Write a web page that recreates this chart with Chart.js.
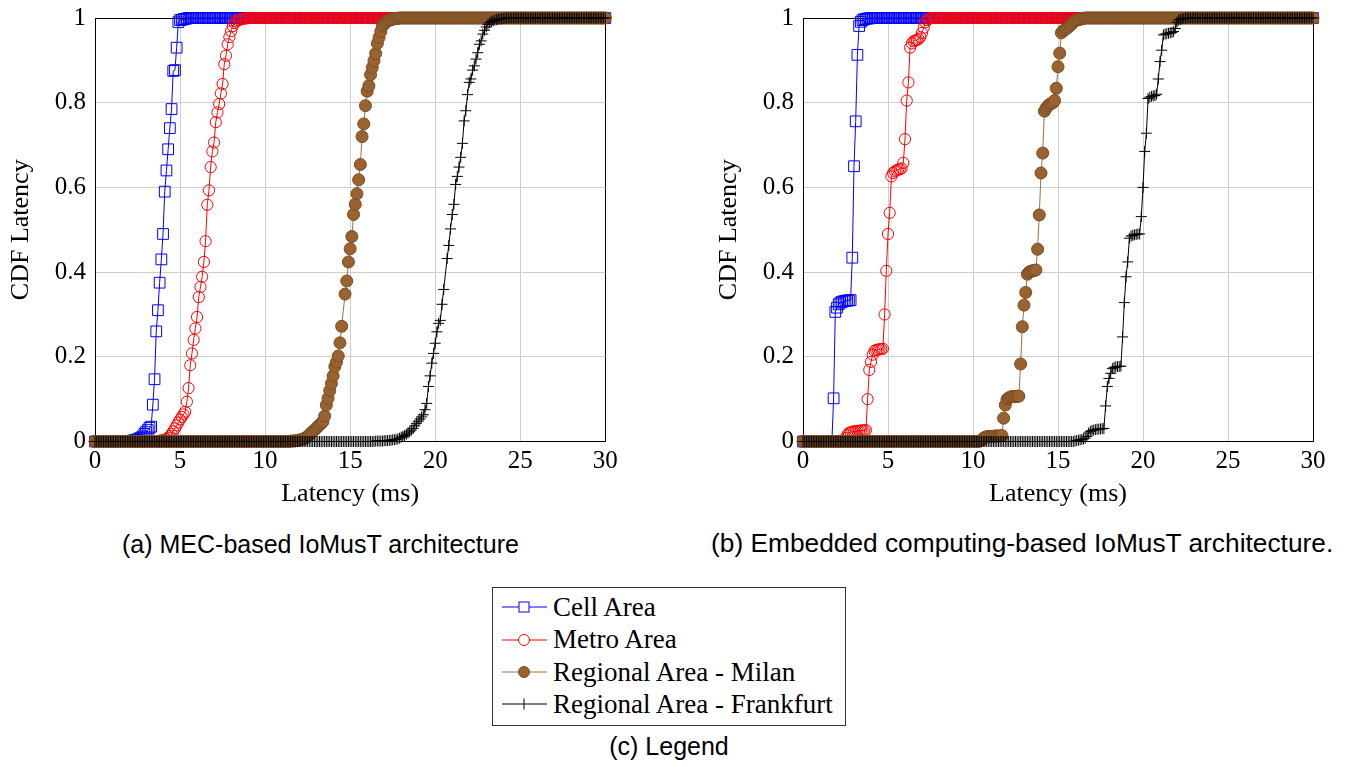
<!DOCTYPE html>
<html>
<head>
<meta charset="utf-8">
<title>CDF Latency</title>
<script src="https://cdn.jsdelivr.net/npm/chart.js@4.4.1/dist/chart.umd.min.js"></script>
<style>
  body { margin: 0; background: #fff; width: 1345px; height: 767px; overflow: hidden; position: relative; }
  canvas { position: absolute; top: -6px; }
  #chartA { left: 0; }
  #chartB { left: 708px; }
  .caption { position: absolute; font-family: "Liberation Sans", Arial, sans-serif; font-size: 25px; line-height: 30px; color: #000; white-space: nowrap; }
  #legendBox { position: absolute; left: 492px; top: 587px; width: 352px; height: 137px; border: 1px solid #333; }
  .entry { position: absolute; left: 0; height: 32px; display: flex; align-items: center; font-family: "Liberation Serif", serif; font-size: 27px; color: #000; white-space: nowrap; }
  .entry svg { margin-left: 9px; margin-right: 6px; }
</style>
</head>
<body>
<canvas id="chartA" width="640" height="526"></canvas>
<canvas id="chartB" width="637" height="526"></canvas>
<div class="caption" style="left:122px; top:529px;">(a) MEC-based IoMusT architecture</div>
<div class="caption" style="left:711px; top:528px; font-size:26.3px;">(b) Embedded computing-based IoMusT architecture.</div>
<div id="legendBox"></div>
<div class="caption" style="left:492px; width:354px; text-align:center; top:731px;">(c) Legend</div>

<script>
// axis ticks
const latencyTicks = [0, 5, 10, 15, 20, 25, 30];
const cdfTicks = [0, 0.2, 0.4, 0.6, 0.8, 1];

const seriesNames = ['Cell Area', 'Metro Area', 'Regional Area - Milan', 'Regional Area - Frankfurt'];

// CDF is sampled every 0.1 ms; below the listed steps it is 0, above them 1
const sampleLatency = Array.from({ length: 301 }, (_, i) => i / 10);

// (a) MEC-based architecture: [latency ms, CDF] where the curve moves
const cellMec = [[2.0,0.001],[2.1,0.001],[2.2,0.002],[2.3,0.003],[2.4,0.004],[2.5,0.005],[2.6,0.007],[2.7,0.009],[2.8,0.012],[2.9,0.018],
  [3.0,0.022],[3.1,0.027],[3.2,0.032],[3.3,0.035],[3.4,0.087],[3.5,0.147],[3.6,0.26],[3.7,0.31],[3.8,0.375],[3.9,0.43],
  [4.0,0.49],[4.1,0.59],[4.2,0.64],[4.3,0.69],[4.4,0.74],[4.5,0.785],[4.6,0.875],[4.7,0.877],[4.8,0.93],[4.9,0.99],
  [5.0,0.995],[5.1,0.996],[5.2,0.997],[5.3,0.998],[5.4,0.999]];
const metroMec = [[3.6,0.001],[3.7,0.001],[3.8,0.002],[3.9,0.002],[4.0,0.003],[4.1,0.004],[4.2,0.006],[4.3,0.009],[4.4,0.013],[4.5,0.018],
  [4.6,0.024],[4.7,0.031],[4.8,0.038],[4.9,0.045],[5.0,0.052],[5.1,0.058],[5.2,0.064],[5.3,0.07],[5.4,0.094],[5.5,0.126],
  [5.6,0.18],[5.7,0.208],[5.8,0.24],[5.9,0.267],[6.0,0.294],[6.1,0.341],[6.2,0.365],[6.3,0.389],[6.4,0.424],[6.5,0.473],
  [6.6,0.559],[6.7,0.593],[6.8,0.648],[6.9,0.685],[7.0,0.706],[7.1,0.754],[7.2,0.777],[7.3,0.797],[7.4,0.822],[7.5,0.844],
  [7.6,0.891],[7.7,0.911],[7.8,0.938],[7.9,0.955],[8.0,0.969],[8.1,0.981],[8.2,0.988],[8.3,0.992],[8.4,0.995],[8.5,0.996],
  [8.6,0.997],[8.7,0.998],[8.8,0.999],[8.9,0.999]];
const milanMec = [[11.5,0.001],[11.6,0.001],[11.7,0.001],[11.8,0.002],[11.9,0.002],[12.0,0.003],[12.1,0.004],[12.2,0.005],[12.3,0.007],[12.4,0.009],
  [12.5,0.012],[12.6,0.016],[12.7,0.02],[12.8,0.024],[12.9,0.027],[13.0,0.031],[13.1,0.035],[13.2,0.039],[13.3,0.043],[13.4,0.047],
  [13.5,0.06],[13.6,0.086],[13.7,0.102],[13.8,0.12],[13.9,0.137],[14.0,0.155],[14.1,0.177],[14.2,0.188],[14.3,0.202],[14.4,0.233],
  [14.5,0.272],[14.7,0.348],[14.8,0.379],[14.9,0.424],[15.0,0.455],[15.1,0.484],[15.2,0.536],[15.3,0.56],[15.4,0.585],[15.5,0.618],
  [15.6,0.654],[15.7,0.72],[15.8,0.75],[15.9,0.793],[16.0,0.827],[16.1,0.84],[16.2,0.866],[16.3,0.883],[16.4,0.899],[16.5,0.916],
  [16.6,0.94],[16.7,0.954],[16.8,0.968],[16.9,0.981],[17.0,0.986],[17.1,0.99],[17.2,0.993],[17.3,0.995],[17.4,0.996],[17.5,0.997],
  [17.6,0.998],[17.7,0.999],[17.8,0.999]];
const frankfurtMec = [[16.5,0.001],[16.6,0.001],[16.7,0.001],[16.8,0.001],[16.9,0.001],[17.0,0.002],[17.1,0.002],[17.2,0.002],[17.3,0.003],[17.4,0.003],
  [17.5,0.004],[17.6,0.004],[17.7,0.005],[17.8,0.006],[17.9,0.008],[18.0,0.01],[18.1,0.012],[18.2,0.014],[18.3,0.017],[18.4,0.02],
  [18.5,0.023],[18.6,0.027],[18.7,0.031],[18.8,0.037],[18.9,0.043],[19.0,0.048],[19.1,0.053],[19.2,0.058],[19.3,0.063],[19.4,0.075],
  [19.5,0.09],[19.6,0.13],[19.7,0.155],[19.8,0.185],[19.9,0.208],[20.0,0.232],[20.1,0.259],[20.2,0.279],[20.3,0.286],[20.4,0.324],
  [20.5,0.359],[20.7,0.432],[20.8,0.463],[20.9,0.502],[21.0,0.536],[21.1,0.56],[21.2,0.607],[21.3,0.626],[21.4,0.648],[21.5,0.671],
  [21.6,0.704],[21.7,0.757],[21.8,0.781],[21.9,0.819],[22.0,0.848],[22.1,0.856],[22.2,0.877],[22.3,0.887],[22.4,0.903],[22.5,0.918],
  [22.6,0.938],[22.7,0.946],[22.8,0.962],[22.9,0.971],[23.0,0.979],[23.1,0.985],[23.2,0.989],[23.3,0.991],[23.4,0.993],[23.5,0.995],
  [23.6,0.996],[23.7,0.997],[23.8,0.998],[23.9,0.998],[24.0,0.999],[24.1,0.999]];

// (b) Embedded computing architecture
const cellEmb = [[1.8,0.102],[1.9,0.306],[2.0,0.316],[2.1,0.324],[2.2,0.328],[2.3,0.33],[2.4,0.331],[2.5,0.332],[2.6,0.333],[2.7,0.333],
  [2.8,0.334],[2.9,0.434],[3.0,0.65],[3.1,0.756],[3.2,0.913],[3.3,0.981],[3.4,0.991],[3.5,0.995],[3.6,0.997],[3.7,0.998],
  [3.8,0.999],[3.9,0.999]];
const metroEmb = [[2.4,0.002],[2.5,0.008],[2.6,0.015],[2.7,0.02],[2.8,0.022],[2.9,0.023],[3.0,0.024],[3.1,0.024],[3.2,0.025],[3.3,0.025],
  [3.4,0.026],[3.5,0.026],[3.6,0.026],[3.7,0.027],[3.8,0.1],[3.9,0.169],[4.0,0.188],[4.1,0.205],[4.2,0.214],[4.3,0.216],
  [4.4,0.217],[4.5,0.218],[4.6,0.218],[4.7,0.219],[4.8,0.3],[4.9,0.403],[5.0,0.49],[5.1,0.54],[5.2,0.626],[5.3,0.634],
  [5.4,0.638],[5.5,0.64],[5.6,0.642],[5.7,0.643],[5.8,0.645],[5.9,0.658],[6.0,0.714],[6.1,0.805],[6.2,0.848],[6.3,0.93],
  [6.4,0.94],[6.5,0.945],[6.6,0.947],[6.7,0.948],[6.8,0.95],[6.9,0.955],[7.0,0.965],[7.1,0.977],[7.2,0.99],[7.3,0.995],
  [7.4,0.998]];
const milanEmb = [[10.4,0.001],[10.5,0.003],[10.6,0.007],[10.7,0.01],[10.8,0.011],[10.9,0.012],[11.0,0.012],[11.1,0.012],[11.2,0.012],[11.3,0.013],
  [11.4,0.013],[11.5,0.013],[11.6,0.013],[11.7,0.014],[11.8,0.055],[11.9,0.086],[12.0,0.1],[12.1,0.103],[12.2,0.105],[12.3,0.106],
  [12.4,0.106],[12.5,0.106],[12.6,0.107],[12.7,0.107],[12.8,0.183],[12.9,0.271],[13.0,0.322],[13.1,0.352],[13.2,0.395],[13.3,0.4],
  [13.4,0.402],[13.5,0.403],[13.6,0.404],[13.7,0.405],[13.8,0.454],[13.9,0.535],[14.0,0.634],[14.1,0.681],[14.2,0.78],[14.3,0.787],
  [14.4,0.792],[14.5,0.796],[14.6,0.798],[14.7,0.8],[14.8,0.805],[14.9,0.834],[15.0,0.885],[15.1,0.917],[15.2,0.965],[15.3,0.97],
  [15.4,0.972],[15.5,0.975],[15.6,0.978],[15.7,0.982],[15.8,0.985],[15.9,0.99],[16.0,0.993],[16.1,0.995],[16.2,0.996],[16.3,0.997],
  [16.4,0.998],[16.5,0.999]];
const frankfurtEmb = [[16.0,0.001],[16.1,0.002],[16.2,0.003],[16.3,0.004],[16.4,0.005],[16.5,0.006],[16.6,0.008],[16.7,0.012],[16.8,0.02],[16.9,0.024],
  [17.0,0.026],[17.1,0.027],[17.2,0.028],[17.3,0.029],[17.4,0.029],[17.5,0.03],[17.6,0.03],[17.7,0.031],[17.8,0.084],[17.9,0.13],
  [18.0,0.149],[18.1,0.161],[18.2,0.172],[18.3,0.175],[18.4,0.176],[18.5,0.177],[18.6,0.177],[18.7,0.178],[18.8,0.247],[18.9,0.328],
  [19.0,0.389],[19.1,0.424],[19.2,0.48],[19.3,0.485],[19.4,0.487],[19.5,0.488],[19.6,0.489],[19.7,0.49],[19.8,0.49],[19.9,0.531],
  [20.0,0.6],[20.1,0.685],[20.2,0.728],[20.3,0.81],[20.4,0.813],[20.5,0.815],[20.6,0.816],[20.7,0.817],[20.8,0.82],[20.9,0.856],
  [21.0,0.897],[21.1,0.924],[21.2,0.96],[21.3,0.962],[21.4,0.963],[21.5,0.964],[21.6,0.965],[21.7,0.966],[21.8,0.968],[21.9,0.975],
  [22.0,0.99],[22.1,0.995],[22.2,0.997],[22.3,0.998],[22.4,0.999]];

// look of each series (same order as seriesNames)
const lineColors = ['#0000ff', '#ff0000', '#a0703e', '#000000'];
const markStyles = ['rect', 'circle', 'circle', 'cross'];
const markRadius = [7.6, 5.6, 6, 5.5];
const markBorders = ['#0000ff', '#ff0000', '#7a4e24', '#000000'];
const markFills = ['rgba(0,0,0,0)', 'rgba(0,0,0,0)', '#99622f', 'rgba(0,0,0,0)'];

const serif = 'Liberation Serif';

// 0 before the first step, the read steps, then 1 to the end of the axis
function cdfPoints(steps) {
    let first = steps[0][0];
    let last = steps[steps.length - 1][0];
    let pts = [];
    sampleLatency.forEach(x => { if (x < first - 1e-6) pts.push({ x: x, y: 0 }); });
    steps.forEach(s => pts.push({ x: s[0], y: s[1] }));
    sampleLatency.forEach(x => { if (x > last + 1e-6) pts.push({ x: x, y: 1 }); });
    return pts;
}

function buildDatasets(series) {
    return series.map((steps, i) => ({
        label: seriesNames[i],
        data: cdfPoints(steps),
        borderColor: lineColors[i],
        borderWidth: 1,
        pointStyle: markStyles[i],
        pointRadius: markRadius[i],
        pointBorderColor: markBorders[i],
        pointBackgroundColor: markFills[i],
        pointBorderWidth: 1,
        tension: 0,
        fill: false,
        clip: false,
        order: series.length - i // later series drawn on top
    }));
}

function drawCdfChart(canvasId, series, rightPad) {
    let ctx = document.getElementById(canvasId).getContext('2d');
    new Chart(ctx, {
        type: 'line',
        data: { datasets: buildDatasets(series) },
        options: {
            responsive: false,
            animation: false,
            layout: { padding: { top: 12, right: rightPad, bottom: 0, left: 0 } },
            plugins: { legend: { display: false }, tooltip: { enabled: false } },
            scales: {
                x: {
                    type: 'linear',
                    min: 0,
                    max: 30,
                    afterBuildTicks: s => { s.ticks = latencyTicks.map(v => ({ value: v })); },
                    afterFit: s => { s.height = 78.5; },
                    ticks: { autoSkip: false, maxRotation: 0, padding: 5, color: '#000',
                             font: { family: serif, size: 25 }, callback: v => String(v) },
                    grid: { drawTicks: false, lineWidth: 1,
                            color: c => (c.tick && c.tick.value === 30) ? '#000' : '#cfcfcf' },
                    border: { color: '#000', width: 1 },
                    title: { display: true, text: 'Latency (ms)', color: '#000',
                             font: { family: serif, size: 26 }, padding: { top: 0, bottom: 10 } }
                },
                y: {
                    type: 'linear',
                    min: 0,
                    max: 1,
                    afterBuildTicks: s => { s.ticks = cdfTicks.map(v => ({ value: v })); },
                    afterFit: s => { s.width = 95; },
                    ticks: { autoSkip: false, padding: 9, color: '#000',
                             font: { family: serif, size: 25 }, callback: v => String(v) },
                    grid: { drawTicks: false, lineWidth: 1,
                            color: c => (c.tick && c.tick.value === 1) ? '#000' : '#cfcfcf' },
                    border: { color: '#000', width: 1 },
                    title: { display: true, text: 'CDF Latency', color: '#000',
                             font: { family: serif, size: 26 }, padding: { top: 6, bottom: 0 } }
                }
            }
        }
    });
}

drawCdfChart('chartA', [cellMec, metroMec, milanMec, frankfurtMec], 34.7);
drawCdfChart('chartB', [cellEmb, metroEmb, milanEmb, frankfurtEmb], 32);

// Legend box (c)
function legendMark(i) {
    let c = markBorders[i];
    let line = '<line x1="0" y1="16" x2="45" y2="16" stroke="' + lineColors[i] + '" stroke-width="1.2"/>';
    let mark = '';
    if (markStyles[i] === 'rect') {
        mark = '<rect x="17" y="11" width="10" height="10" fill="#fff" stroke="' + c + '" stroke-width="1"/>';
    } else if (markStyles[i] === 'cross') {
        mark = '<line x1="22" y1="10.5" x2="22" y2="21.5" stroke="' + c + '" stroke-width="1"/>';
    } else {
        let fill = markFills[i] === 'rgba(0,0,0,0)' ? '#fff' : markFills[i];
        mark = '<circle cx="22" cy="16" r="5.5" fill="' + fill + '" stroke="' + c + '" stroke-width="1"/>';
    }
    return '<svg width="45" height="32">' + line + mark + '</svg>';
}

let legendBox = document.getElementById('legendBox');
let rowTops = [3, 35.5, 68, 100];
seriesNames.forEach((name, i) => {
    legendBox.innerHTML += '<div class="entry" style="top:' + rowTops[i] + 'px;">' + legendMark(i) + '<span>' + name + '</span></div>';
});
</script>
</body>
</html>
